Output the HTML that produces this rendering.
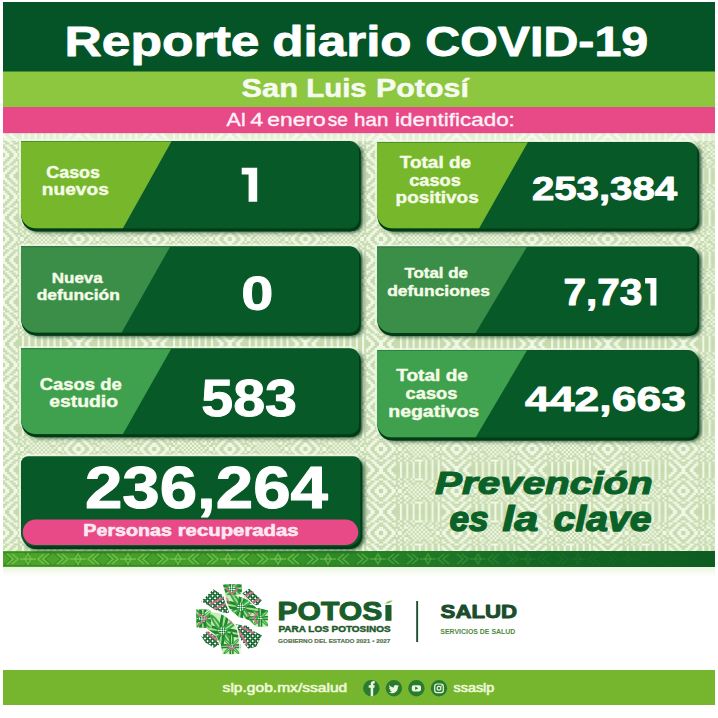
<!DOCTYPE html>
<html><head><meta charset="utf-8"><title>Reporte diario COVID-19</title>
<style>html,body{margin:0;padding:0;background:#fff;width:718px;height:718px;overflow:hidden}svg{display:block}</style>
</head><body>
<svg width="718" height="718" viewBox="0 0 718 718">
<defs>
<filter id="sh" x="-5%" y="-10%" width="110%" height="130%"><feGaussianBlur stdDeviation="1.9"/></filter>
<filter id="sh2" x="-5%" y="-10%" width="110%" height="130%"><feGaussianBlur stdDeviation="0.7"/></filter>
<pattern id="pat" x="3" y="134" width="75.6" height="42.0" patternUnits="userSpaceOnUse"><rect width="75.6" height="42.0" fill="#f0f8e6"/><g fill="#c6daad"><rect x="2.1" y="0.0" width="4.2" height="2.1"/><rect x="10.5" y="0.0" width="8.4" height="2.1"/><rect x="21.0" y="0.0" width="4.2" height="2.1"/><rect x="27.3" y="0.0" width="4.2" height="2.1"/><rect x="33.6" y="0.0" width="4.2" height="2.1"/><rect x="39.9" y="0.0" width="4.2" height="2.1"/><rect x="46.2" y="0.0" width="4.2" height="2.1"/><rect x="52.5" y="0.0" width="4.2" height="2.1"/><rect x="58.8" y="0.0" width="6.3" height="2.1"/><rect x="69.3" y="0.0" width="4.2" height="2.1"/><rect x="4.2" y="2.1" width="4.2" height="2.1"/><rect x="12.6" y="2.1" width="6.3" height="2.1"/><rect x="21.0" y="2.1" width="4.2" height="2.1"/><rect x="27.3" y="2.1" width="4.2" height="2.1"/><rect x="33.6" y="2.1" width="4.2" height="2.1"/><rect x="39.9" y="2.1" width="4.2" height="2.1"/><rect x="46.2" y="2.1" width="4.2" height="2.1"/><rect x="52.5" y="2.1" width="4.2" height="2.1"/><rect x="58.8" y="2.1" width="4.2" height="2.1"/><rect x="67.2" y="2.1" width="4.2" height="2.1"/><rect x="0.0" y="4.2" width="2.1" height="2.1"/><rect x="6.3" y="4.2" width="4.2" height="2.1"/><rect x="14.7" y="4.2" width="4.2" height="2.1"/><rect x="21.0" y="4.2" width="4.2" height="2.1"/><rect x="27.3" y="4.2" width="4.2" height="2.1"/><rect x="33.6" y="4.2" width="4.2" height="2.1"/><rect x="39.9" y="4.2" width="4.2" height="2.1"/><rect x="46.2" y="4.2" width="4.2" height="2.1"/><rect x="52.5" y="4.2" width="4.2" height="2.1"/><rect x="58.8" y="4.2" width="2.1" height="2.1"/><rect x="65.1" y="4.2" width="4.2" height="2.1"/><rect x="73.5" y="4.2" width="2.1" height="2.1"/><rect x="0.0" y="6.3" width="4.2" height="2.1"/><rect x="8.4" y="6.3" width="4.2" height="2.1"/><rect x="14.7" y="6.3" width="4.2" height="2.1"/><rect x="21.0" y="6.3" width="4.2" height="2.1"/><rect x="27.3" y="6.3" width="4.2" height="2.1"/><rect x="33.6" y="6.3" width="4.2" height="2.1"/><rect x="39.9" y="6.3" width="4.2" height="2.1"/><rect x="46.2" y="6.3" width="4.2" height="2.1"/><rect x="52.5" y="6.3" width="4.2" height="2.1"/><rect x="58.8" y="6.3" width="2.1" height="2.1"/><rect x="63.0" y="6.3" width="4.2" height="2.1"/><rect x="71.4" y="6.3" width="4.2" height="2.1"/><rect x="2.1" y="8.4" width="4.2" height="2.1"/><rect x="10.5" y="8.4" width="6.3" height="2.1"/><rect x="18.9" y="8.4" width="4.2" height="2.1"/><rect x="25.2" y="8.4" width="4.2" height="2.1"/><rect x="31.5" y="8.4" width="2.1" height="2.1"/><rect x="42.0" y="8.4" width="2.1" height="2.1"/><rect x="46.2" y="8.4" width="4.2" height="2.1"/><rect x="52.5" y="8.4" width="4.2" height="2.1"/><rect x="58.8" y="8.4" width="6.3" height="2.1"/><rect x="69.3" y="8.4" width="4.2" height="2.1"/><rect x="0.0" y="10.5" width="2.1" height="2.1"/><rect x="6.3" y="10.5" width="4.2" height="2.1"/><rect x="14.7" y="10.5" width="4.2" height="2.1"/><rect x="21.0" y="10.5" width="4.2" height="2.1"/><rect x="27.3" y="10.5" width="4.2" height="2.1"/><rect x="33.6" y="10.5" width="8.4" height="2.1"/><rect x="44.1" y="10.5" width="4.2" height="2.1"/><rect x="50.4" y="10.5" width="4.2" height="2.1"/><rect x="56.7" y="10.5" width="4.2" height="2.1"/><rect x="65.1" y="10.5" width="4.2" height="2.1"/><rect x="73.5" y="10.5" width="2.1" height="2.1"/><rect x="0.0" y="12.6" width="4.2" height="2.1"/><rect x="8.4" y="12.6" width="4.2" height="2.1"/><rect x="14.7" y="12.6" width="2.1" height="2.1"/><rect x="18.9" y="12.6" width="4.2" height="2.1"/><rect x="25.2" y="12.6" width="2.1" height="2.1"/><rect x="29.4" y="12.6" width="6.3" height="2.1"/><rect x="37.8" y="12.6" width="2.1" height="2.1"/><rect x="42.0" y="12.6" width="4.2" height="2.1"/><rect x="48.3" y="12.6" width="2.1" height="2.1"/><rect x="52.5" y="12.6" width="4.2" height="2.1"/><rect x="58.8" y="12.6" width="2.1" height="2.1"/><rect x="63.0" y="12.6" width="4.2" height="2.1"/><rect x="71.4" y="12.6" width="4.2" height="2.1"/><rect x="2.1" y="14.7" width="4.2" height="2.1"/><rect x="10.5" y="14.7" width="8.4" height="2.1"/><rect x="21.0" y="14.7" width="2.1" height="2.1"/><rect x="27.3" y="14.7" width="2.1" height="2.1"/><rect x="31.5" y="14.7" width="2.1" height="2.1"/><rect x="35.7" y="14.7" width="2.1" height="2.1"/><rect x="39.9" y="14.7" width="2.1" height="2.1"/><rect x="44.1" y="14.7" width="4.2" height="2.1"/><rect x="52.5" y="14.7" width="2.1" height="2.1"/><rect x="56.7" y="14.7" width="8.4" height="2.1"/><rect x="69.3" y="14.7" width="4.2" height="2.1"/><rect x="4.2" y="16.8" width="4.2" height="2.1"/><rect x="12.6" y="16.8" width="2.1" height="2.1"/><rect x="16.8" y="16.8" width="4.2" height="2.1"/><rect x="23.1" y="16.8" width="4.2" height="2.1"/><rect x="29.4" y="16.8" width="2.1" height="2.1"/><rect x="33.6" y="16.8" width="2.1" height="2.1"/><rect x="37.8" y="16.8" width="2.1" height="2.1"/><rect x="42.0" y="16.8" width="2.1" height="2.1"/><rect x="46.2" y="16.8" width="6.3" height="2.1"/><rect x="54.6" y="16.8" width="4.2" height="2.1"/><rect x="60.9" y="16.8" width="2.1" height="2.1"/><rect x="67.2" y="16.8" width="4.2" height="2.1"/><rect x="0.0" y="18.9" width="2.1" height="2.1"/><rect x="6.3" y="18.9" width="4.2" height="2.1"/><rect x="14.7" y="18.9" width="2.1" height="2.1"/><rect x="21.0" y="18.9" width="4.2" height="2.1"/><rect x="27.3" y="18.9" width="2.1" height="2.1"/><rect x="31.5" y="18.9" width="2.1" height="2.1"/><rect x="35.7" y="18.9" width="2.1" height="2.1"/><rect x="39.9" y="18.9" width="2.1" height="2.1"/><rect x="44.1" y="18.9" width="2.1" height="2.1"/><rect x="48.3" y="18.9" width="2.1" height="2.1"/><rect x="52.5" y="18.9" width="2.1" height="2.1"/><rect x="58.8" y="18.9" width="2.1" height="2.1"/><rect x="65.1" y="18.9" width="4.2" height="2.1"/><rect x="73.5" y="18.9" width="2.1" height="2.1"/><rect x="0.0" y="21.0" width="2.1" height="2.1"/><rect x="6.3" y="21.0" width="4.2" height="2.1"/><rect x="14.7" y="21.0" width="2.1" height="2.1"/><rect x="21.0" y="21.0" width="2.1" height="2.1"/><rect x="25.2" y="21.0" width="2.1" height="2.1"/><rect x="29.4" y="21.0" width="2.1" height="2.1"/><rect x="33.6" y="21.0" width="2.1" height="2.1"/><rect x="37.8" y="21.0" width="2.1" height="2.1"/><rect x="42.0" y="21.0" width="2.1" height="2.1"/><rect x="46.2" y="21.0" width="2.1" height="2.1"/><rect x="50.4" y="21.0" width="4.2" height="2.1"/><rect x="58.8" y="21.0" width="2.1" height="2.1"/><rect x="65.1" y="21.0" width="4.2" height="2.1"/><rect x="73.5" y="21.0" width="2.1" height="2.1"/><rect x="4.2" y="23.1" width="4.2" height="2.1"/><rect x="12.6" y="23.1" width="2.1" height="2.1"/><rect x="16.8" y="23.1" width="4.2" height="2.1"/><rect x="23.1" y="23.1" width="6.3" height="2.1"/><rect x="31.5" y="23.1" width="2.1" height="2.1"/><rect x="35.7" y="23.1" width="2.1" height="2.1"/><rect x="39.9" y="23.1" width="2.1" height="2.1"/><rect x="44.1" y="23.1" width="2.1" height="2.1"/><rect x="48.3" y="23.1" width="4.2" height="2.1"/><rect x="54.6" y="23.1" width="4.2" height="2.1"/><rect x="60.9" y="23.1" width="2.1" height="2.1"/><rect x="67.2" y="23.1" width="4.2" height="2.1"/><rect x="2.1" y="25.2" width="4.2" height="2.1"/><rect x="10.5" y="25.2" width="8.4" height="2.1"/><rect x="21.0" y="25.2" width="2.1" height="2.1"/><rect x="27.3" y="25.2" width="4.2" height="2.1"/><rect x="33.6" y="25.2" width="2.1" height="2.1"/><rect x="37.8" y="25.2" width="2.1" height="2.1"/><rect x="42.0" y="25.2" width="2.1" height="2.1"/><rect x="46.2" y="25.2" width="2.1" height="2.1"/><rect x="52.5" y="25.2" width="2.1" height="2.1"/><rect x="56.7" y="25.2" width="8.4" height="2.1"/><rect x="69.3" y="25.2" width="4.2" height="2.1"/><rect x="0.0" y="27.3" width="4.2" height="2.1"/><rect x="8.4" y="27.3" width="4.2" height="2.1"/><rect x="14.7" y="27.3" width="2.1" height="2.1"/><rect x="18.9" y="27.3" width="4.2" height="2.1"/><rect x="25.2" y="27.3" width="2.1" height="2.1"/><rect x="29.4" y="27.3" width="4.2" height="2.1"/><rect x="35.7" y="27.3" width="2.1" height="2.1"/><rect x="39.9" y="27.3" width="6.3" height="2.1"/><rect x="48.3" y="27.3" width="2.1" height="2.1"/><rect x="52.5" y="27.3" width="4.2" height="2.1"/><rect x="58.8" y="27.3" width="2.1" height="2.1"/><rect x="63.0" y="27.3" width="4.2" height="2.1"/><rect x="71.4" y="27.3" width="4.2" height="2.1"/><rect x="0.0" y="29.4" width="2.1" height="2.1"/><rect x="6.3" y="29.4" width="4.2" height="2.1"/><rect x="14.7" y="29.4" width="4.2" height="2.1"/><rect x="21.0" y="29.4" width="4.2" height="2.1"/><rect x="27.3" y="29.4" width="4.2" height="2.1"/><rect x="33.6" y="29.4" width="8.4" height="2.1"/><rect x="44.1" y="29.4" width="4.2" height="2.1"/><rect x="50.4" y="29.4" width="4.2" height="2.1"/><rect x="56.7" y="29.4" width="4.2" height="2.1"/><rect x="65.1" y="29.4" width="4.2" height="2.1"/><rect x="73.5" y="29.4" width="2.1" height="2.1"/><rect x="2.1" y="31.5" width="4.2" height="2.1"/><rect x="10.5" y="31.5" width="6.3" height="2.1"/><rect x="18.9" y="31.5" width="4.2" height="2.1"/><rect x="25.2" y="31.5" width="4.2" height="2.1"/><rect x="31.5" y="31.5" width="2.1" height="2.1"/><rect x="42.0" y="31.5" width="2.1" height="2.1"/><rect x="46.2" y="31.5" width="4.2" height="2.1"/><rect x="52.5" y="31.5" width="4.2" height="2.1"/><rect x="58.8" y="31.5" width="6.3" height="2.1"/><rect x="69.3" y="31.5" width="4.2" height="2.1"/><rect x="0.0" y="33.6" width="4.2" height="2.1"/><rect x="8.4" y="33.6" width="4.2" height="2.1"/><rect x="14.7" y="33.6" width="4.2" height="2.1"/><rect x="21.0" y="33.6" width="4.2" height="2.1"/><rect x="27.3" y="33.6" width="4.2" height="2.1"/><rect x="33.6" y="33.6" width="4.2" height="2.1"/><rect x="39.9" y="33.6" width="4.2" height="2.1"/><rect x="46.2" y="33.6" width="4.2" height="2.1"/><rect x="52.5" y="33.6" width="4.2" height="2.1"/><rect x="58.8" y="33.6" width="2.1" height="2.1"/><rect x="63.0" y="33.6" width="4.2" height="2.1"/><rect x="71.4" y="33.6" width="4.2" height="2.1"/><rect x="0.0" y="35.7" width="2.1" height="2.1"/><rect x="6.3" y="35.7" width="4.2" height="2.1"/><rect x="14.7" y="35.7" width="4.2" height="2.1"/><rect x="21.0" y="35.7" width="4.2" height="2.1"/><rect x="27.3" y="35.7" width="4.2" height="2.1"/><rect x="33.6" y="35.7" width="4.2" height="2.1"/><rect x="39.9" y="35.7" width="4.2" height="2.1"/><rect x="46.2" y="35.7" width="4.2" height="2.1"/><rect x="52.5" y="35.7" width="4.2" height="2.1"/><rect x="58.8" y="35.7" width="2.1" height="2.1"/><rect x="65.1" y="35.7" width="4.2" height="2.1"/><rect x="73.5" y="35.7" width="2.1" height="2.1"/><rect x="4.2" y="37.8" width="4.2" height="2.1"/><rect x="12.6" y="37.8" width="6.3" height="2.1"/><rect x="21.0" y="37.8" width="4.2" height="2.1"/><rect x="27.3" y="37.8" width="4.2" height="2.1"/><rect x="33.6" y="37.8" width="4.2" height="2.1"/><rect x="39.9" y="37.8" width="4.2" height="2.1"/><rect x="46.2" y="37.8" width="4.2" height="2.1"/><rect x="52.5" y="37.8" width="4.2" height="2.1"/><rect x="58.8" y="37.8" width="4.2" height="2.1"/><rect x="67.2" y="37.8" width="4.2" height="2.1"/><rect x="2.1" y="39.9" width="4.2" height="2.1"/><rect x="10.5" y="39.9" width="8.4" height="2.1"/><rect x="21.0" y="39.9" width="4.2" height="2.1"/><rect x="27.3" y="39.9" width="4.2" height="2.1"/><rect x="33.6" y="39.9" width="4.2" height="2.1"/><rect x="39.9" y="39.9" width="4.2" height="2.1"/><rect x="46.2" y="39.9" width="4.2" height="2.1"/><rect x="52.5" y="39.9" width="4.2" height="2.1"/><rect x="58.8" y="39.9" width="6.3" height="2.1"/><rect x="69.3" y="39.9" width="4.2" height="2.1"/></g></pattern>
<pattern id="bandp" x="3" y="551" width="50" height="16" patternUnits="userSpaceOnUse">
<g stroke="#2a7a1c" stroke-opacity="0.55" stroke-width="1.2" fill="none">
<path d="M0,1.5H50M0,14.5H50"/>
<path d="M1,2 l7,6 l-7,6 M22,2 l6,6 l-6,6 M28,2 l-6,6 l6,6 M49,2 l-7,6 l7,6"/>
</g>
<g stroke="#93d862" stroke-opacity="0.55" stroke-width="1.5" fill="none">
<path d="M4,3 l6,5 l-6,5 M9,3 l6,5 l-6,5"/>
<path d="M46,3 l-6,5 l6,5 M41,3 l-6,5 l6,5"/>
<path d="M17,8H33"/>
<path d="M25,3 l3,5 l-3,5 l-3,-5z"/>
</g>
</pattern>
<linearGradient id="bandm" x1="0" x2="1" y1="0" y2="0"><stop offset="0" stop-color="#fff"/><stop offset="0.4" stop-color="#fff"/><stop offset="0.75" stop-color="#fff" stop-opacity="0.15"/><stop offset="1" stop-color="#fff" stop-opacity="0"/></linearGradient>
<mask id="bmask" maskUnits="userSpaceOnUse" x="0" y="540" width="718" height="40"><rect x="3" y="551" width="712" height="16" fill="url(#bandm)"/></mask>
<linearGradient id="fade" x1="0" x2="0" y1="0" y2="1"><stop offset="0" stop-color="#eaf6e0"/><stop offset="1" stop-color="#ffffff"/></linearGradient>
<linearGradient id="band" x1="0" x2="1" y1="0" y2="0">
<stop offset="0" stop-color="#4ea52b"/><stop offset="0.35" stop-color="#3e9a2a"/><stop offset="0.55" stop-color="#237f27"/><stop offset="0.75" stop-color="#136624"/><stop offset="1" stop-color="#0d5d22"/>
</linearGradient>
</defs>
<rect x="0" y="0" width="718" height="718" fill="#ffffff"/>
<rect x="3" y="2" width="712" height="70" fill="#045428"/>
<rect x="3" y="71.5" width="712" height="35.5" fill="#8dc63f"/>
<rect x="3" y="107" width="712" height="26.5" fill="#e84a87"/>
<rect x="3" y="133.5" width="712" height="417.5" fill="url(#pat)"/>
<rect x="3" y="133.5" width="712" height="7.5" fill="#f6fbf0" opacity="0.6"/>
<rect x="3" y="551" width="712" height="16" fill="url(#band)"/>
<rect x="3" y="551" width="712" height="16" fill="url(#bandp)" mask="url(#bmask)"/>
<rect x="3" y="567" width="712" height="10" fill="url(#fade)"/>
<rect x="3" y="670" width="712" height="35" fill="#76b52e"/>

<path d="M21,141 H350 A9,9 0 0 1 359,150 V219.5 A9,9 0 0 1 350,228.5 H36 A15,15 0 0 1 21,213.5 V141  Z" fill="none" stroke="#f2fbea" stroke-width="4" opacity="0.75"/>
<path d="M21,141 H350 A9,9 0 0 1 359,150 V219.5 A9,9 0 0 1 350,228.5 H36 A15,15 0 0 1 21,213.5 V141  Z" transform="translate(3.5,3.5)" fill="#04371a" filter="url(#sh)" opacity="0.95"/>
<path d="M21,141 H350 A9,9 0 0 1 359,150 V219.5 A9,9 0 0 1 350,228.5 H36 A15,15 0 0 1 21,213.5 V141  Z" transform="translate(1.8,2.6)" fill="#033b15" filter="url(#sh2)"/>
<path d="M21,141 H350 A9,9 0 0 1 359,150 V219.5 A9,9 0 0 1 350,228.5 H36 A15,15 0 0 1 21,213.5 V141  Z" transform="translate(0.5,3)" fill="#033b15"/>
<clipPath id="cpc1"><path d="M21,141 H350 A9,9 0 0 1 359,150 V219.5 A9,9 0 0 1 350,228.5 H36 A15,15 0 0 1 21,213.5 V141  Z"/></clipPath>
<path d="M21,141 H350 A9,9 0 0 1 359,150 V219.5 A9,9 0 0 1 350,228.5 H36 A15,15 0 0 1 21,213.5 V141  Z" fill="#085928"/>
<polygon points="21,141 171.7,141 122.8,228.5 21,228.5" fill="#77b72b" clip-path="url(#cpc1)"/>
<rect x="21" y="141" width="338" height="1" fill="#0a4a20" opacity="0.35" clip-path="url(#cpc1)"/>
<path d="M21,246.2 H350 A9,9 0 0 1 359,255.2 V323.7 A9,9 0 0 1 350,332.7 H36 A15,15 0 0 1 21,317.7 V246.2  Z" fill="none" stroke="#f2fbea" stroke-width="4" opacity="0.75"/>
<path d="M21,246.2 H350 A9,9 0 0 1 359,255.2 V323.7 A9,9 0 0 1 350,332.7 H36 A15,15 0 0 1 21,317.7 V246.2  Z" transform="translate(3.5,3.5)" fill="#04371a" filter="url(#sh)" opacity="0.95"/>
<path d="M21,246.2 H350 A9,9 0 0 1 359,255.2 V323.7 A9,9 0 0 1 350,332.7 H36 A15,15 0 0 1 21,317.7 V246.2  Z" transform="translate(1.8,2.6)" fill="#033b15" filter="url(#sh2)"/>
<path d="M21,246.2 H350 A9,9 0 0 1 359,255.2 V323.7 A9,9 0 0 1 350,332.7 H36 A15,15 0 0 1 21,317.7 V246.2  Z" transform="translate(0.5,3)" fill="#033b15"/>
<clipPath id="cpc2"><path d="M21,246.2 H350 A9,9 0 0 1 359,255.2 V323.7 A9,9 0 0 1 350,332.7 H36 A15,15 0 0 1 21,317.7 V246.2  Z"/></clipPath>
<path d="M21,246.2 H350 A9,9 0 0 1 359,255.2 V323.7 A9,9 0 0 1 350,332.7 H36 A15,15 0 0 1 21,317.7 V246.2  Z" fill="#085928"/>
<polygon points="21,246.2 170.4,246.2 121.5,332.7 21,332.7" fill="#3a8e48" clip-path="url(#cpc2)"/>
<rect x="21" y="246.2" width="338" height="1" fill="#0a4a20" opacity="0.35" clip-path="url(#cpc2)"/>
<path d="M21,348.2 H350 A9,9 0 0 1 359,357.2 V425.2 A9,9 0 0 1 350,434.2 H36 A15,15 0 0 1 21,419.2 V348.2  Z" fill="none" stroke="#f2fbea" stroke-width="4" opacity="0.75"/>
<path d="M21,348.2 H350 A9,9 0 0 1 359,357.2 V425.2 A9,9 0 0 1 350,434.2 H36 A15,15 0 0 1 21,419.2 V348.2  Z" transform="translate(3.5,3.5)" fill="#04371a" filter="url(#sh)" opacity="0.95"/>
<path d="M21,348.2 H350 A9,9 0 0 1 359,357.2 V425.2 A9,9 0 0 1 350,434.2 H36 A15,15 0 0 1 21,419.2 V348.2  Z" transform="translate(1.8,2.6)" fill="#033b15" filter="url(#sh2)"/>
<path d="M21,348.2 H350 A9,9 0 0 1 359,357.2 V425.2 A9,9 0 0 1 350,434.2 H36 A15,15 0 0 1 21,419.2 V348.2  Z" transform="translate(0.5,3)" fill="#033b15"/>
<clipPath id="cpc3"><path d="M21,348.2 H350 A9,9 0 0 1 359,357.2 V425.2 A9,9 0 0 1 350,434.2 H36 A15,15 0 0 1 21,419.2 V348.2  Z"/></clipPath>
<path d="M21,348.2 H350 A9,9 0 0 1 359,357.2 V425.2 A9,9 0 0 1 350,434.2 H36 A15,15 0 0 1 21,419.2 V348.2  Z" fill="#085928"/>
<polygon points="21,348.2 171.5,348.2 122.8,434.2 21,434.2" fill="#3fa14d" clip-path="url(#cpc3)"/>
<rect x="21" y="348.2" width="338" height="1" fill="#0a4a20" opacity="0.35" clip-path="url(#cpc3)"/>
<path d="M377,142 H688.3 A9,9 0 0 1 697.3,151 V219.4 A9,9 0 0 1 688.3,228.4 H392 A15,15 0 0 1 377,213.4 V142  Z" fill="none" stroke="#f2fbea" stroke-width="4" opacity="0.75"/>
<path d="M377,142 H688.3 A9,9 0 0 1 697.3,151 V219.4 A9,9 0 0 1 688.3,228.4 H392 A15,15 0 0 1 377,213.4 V142  Z" transform="translate(3.5,3.5)" fill="#04371a" filter="url(#sh)" opacity="0.95"/>
<path d="M377,142 H688.3 A9,9 0 0 1 697.3,151 V219.4 A9,9 0 0 1 688.3,228.4 H392 A15,15 0 0 1 377,213.4 V142  Z" transform="translate(1.8,2.6)" fill="#033b15" filter="url(#sh2)"/>
<path d="M377,142 H688.3 A9,9 0 0 1 697.3,151 V219.4 A9,9 0 0 1 688.3,228.4 H392 A15,15 0 0 1 377,213.4 V142  Z" transform="translate(0.5,3)" fill="#033b15"/>
<clipPath id="cpc4"><path d="M377,142 H688.3 A9,9 0 0 1 697.3,151 V219.4 A9,9 0 0 1 688.3,228.4 H392 A15,15 0 0 1 377,213.4 V142  Z"/></clipPath>
<path d="M377,142 H688.3 A9,9 0 0 1 697.3,151 V219.4 A9,9 0 0 1 688.3,228.4 H392 A15,15 0 0 1 377,213.4 V142  Z" fill="#085928"/>
<polygon points="377,142 528,142 479,228.4 377,228.4" fill="#77b72b" clip-path="url(#cpc4)"/>
<rect x="377" y="142" width="320.3" height="1" fill="#0a4a20" opacity="0.35" clip-path="url(#cpc4)"/>
<path d="M377,246.4 H688.3 A9,9 0 0 1 697.3,255.4 V324.0 A9,9 0 0 1 688.3,333.0 H392 A15,15 0 0 1 377,318.0 V246.4  Z" fill="none" stroke="#f2fbea" stroke-width="4" opacity="0.75"/>
<path d="M377,246.4 H688.3 A9,9 0 0 1 697.3,255.4 V324.0 A9,9 0 0 1 688.3,333.0 H392 A15,15 0 0 1 377,318.0 V246.4  Z" transform="translate(3.5,3.5)" fill="#04371a" filter="url(#sh)" opacity="0.95"/>
<path d="M377,246.4 H688.3 A9,9 0 0 1 697.3,255.4 V324.0 A9,9 0 0 1 688.3,333.0 H392 A15,15 0 0 1 377,318.0 V246.4  Z" transform="translate(1.8,2.6)" fill="#033b15" filter="url(#sh2)"/>
<path d="M377,246.4 H688.3 A9,9 0 0 1 697.3,255.4 V324.0 A9,9 0 0 1 688.3,333.0 H392 A15,15 0 0 1 377,318.0 V246.4  Z" transform="translate(0.5,3)" fill="#033b15"/>
<clipPath id="cpc5"><path d="M377,246.4 H688.3 A9,9 0 0 1 697.3,255.4 V324.0 A9,9 0 0 1 688.3,333.0 H392 A15,15 0 0 1 377,318.0 V246.4  Z"/></clipPath>
<path d="M377,246.4 H688.3 A9,9 0 0 1 697.3,255.4 V324.0 A9,9 0 0 1 688.3,333.0 H392 A15,15 0 0 1 377,318.0 V246.4  Z" fill="#085928"/>
<polygon points="377,246.4 527.2,246.4 475.6,333.0 377,333.0" fill="#3a8e48" clip-path="url(#cpc5)"/>
<rect x="377" y="246.4" width="320.3" height="1" fill="#0a4a20" opacity="0.35" clip-path="url(#cpc5)"/>
<path d="M377,350 H688.3 A9,9 0 0 1 697.3,359 V428.6 A9,9 0 0 1 688.3,437.6 H392 A15,15 0 0 1 377,422.6 V350  Z" fill="none" stroke="#f2fbea" stroke-width="4" opacity="0.75"/>
<path d="M377,350 H688.3 A9,9 0 0 1 697.3,359 V428.6 A9,9 0 0 1 688.3,437.6 H392 A15,15 0 0 1 377,422.6 V350  Z" transform="translate(3.5,3.5)" fill="#04371a" filter="url(#sh)" opacity="0.95"/>
<path d="M377,350 H688.3 A9,9 0 0 1 697.3,359 V428.6 A9,9 0 0 1 688.3,437.6 H392 A15,15 0 0 1 377,422.6 V350  Z" transform="translate(1.8,2.6)" fill="#033b15" filter="url(#sh2)"/>
<path d="M377,350 H688.3 A9,9 0 0 1 697.3,359 V428.6 A9,9 0 0 1 688.3,437.6 H392 A15,15 0 0 1 377,422.6 V350  Z" transform="translate(0.5,3)" fill="#033b15"/>
<clipPath id="cpc6"><path d="M377,350 H688.3 A9,9 0 0 1 697.3,359 V428.6 A9,9 0 0 1 688.3,437.6 H392 A15,15 0 0 1 377,422.6 V350  Z"/></clipPath>
<path d="M377,350 H688.3 A9,9 0 0 1 697.3,359 V428.6 A9,9 0 0 1 688.3,437.6 H392 A15,15 0 0 1 377,422.6 V350  Z" fill="#085928"/>
<polygon points="377,350 527.2,350 475.6,437.6 377,437.6" fill="#3fa14d" clip-path="url(#cpc6)"/>
<rect x="377" y="350" width="320.3" height="1" fill="#0a4a20" opacity="0.35" clip-path="url(#cpc6)"/>
<path d="M28,456.3 H353.4 A7,7 0 0 1 360.4,463.3 V533.5999999999999 A12.7,12.7 0 0 1 347.7,546.3 H33.7 A12.7,12.7 0 0 1 21,533.5999999999999 V463.3 A7,7 0 0 1 28,456.3 Z" fill="none" stroke="#f2fbea" stroke-width="4" opacity="0.75"/>
<path d="M28,456.3 H353.4 A7,7 0 0 1 360.4,463.3 V533.5999999999999 A12.7,12.7 0 0 1 347.7,546.3 H33.7 A12.7,12.7 0 0 1 21,533.5999999999999 V463.3 A7,7 0 0 1 28,456.3 Z" transform="translate(3.5,3.5)" fill="#04371a" filter="url(#sh)" opacity="0.95"/>
<path d="M28,456.3 H353.4 A7,7 0 0 1 360.4,463.3 V533.5999999999999 A12.7,12.7 0 0 1 347.7,546.3 H33.7 A12.7,12.7 0 0 1 21,533.5999999999999 V463.3 A7,7 0 0 1 28,456.3 Z" transform="translate(1.8,2.6)" fill="#033b15" filter="url(#sh2)"/>
<path d="M28,456.3 H353.4 A7,7 0 0 1 360.4,463.3 V533.5999999999999 A12.7,12.7 0 0 1 347.7,546.3 H33.7 A12.7,12.7 0 0 1 21,533.5999999999999 V463.3 A7,7 0 0 1 28,456.3 Z" fill="#085928"/>
<rect x="22.8" y="519.6" width="335.4" height="25.4" rx="12.7" fill="#e84a87"/>
<text transform="translate(64.57,55.50) scale(1.2219,1)" fill="#ffffff" stroke="#ffffff" stroke-width="0.82" stroke-linejoin="round" style="font-family:'Liberation Sans',sans-serif;font-size:42.24px;font-weight:bold">Reporte</text>
<text transform="translate(272.30,55.50) scale(1.2119,1)" fill="#ffffff" stroke="#ffffff" stroke-width="0.83" stroke-linejoin="round" style="font-family:'Liberation Sans',sans-serif;font-size:42.24px;font-weight:bold">diario</text>
<text transform="translate(425.29,55.50) scale(1.1442,1)" fill="#ffffff" stroke="#ffffff" stroke-width="0.87" stroke-linejoin="round" style="font-family:'Liberation Sans',sans-serif;font-size:42.24px;font-weight:bold">COVID-19</text>
<text transform="translate(241.52,96.60) scale(1.1640,1)" fill="#f6fbef" stroke="#f6fbef" stroke-width="0.52" stroke-linejoin="round" style="font-family:'Liberation Sans',sans-serif;font-size:26.45px;font-weight:bold">San</text>
<text transform="translate(306.16,96.60) scale(1.1151,1)" fill="#f6fbef" stroke="#f6fbef" stroke-width="0.54" stroke-linejoin="round" style="font-family:'Liberation Sans',sans-serif;font-size:26.45px;font-weight:bold">Luis</text>
<text transform="translate(376.00,96.60) scale(1.1499,1)" fill="#f6fbef" stroke="#f6fbef" stroke-width="0.52" stroke-linejoin="round" style="font-family:'Liberation Sans',sans-serif;font-size:26.45px;font-weight:bold">Potosí</text>
<text transform="translate(226.62,126.48) scale(1.2108,1)" fill="#fdf0f6" stroke="#fdf0f6" stroke-width="0.37" stroke-linejoin="round" style="font-family:'Liberation Sans',sans-serif;font-size:17.71px;font-weight:normal">Al</text>
<text transform="translate(250.16,126.48) scale(1.3198,1)" fill="#fdf0f6" stroke="#fdf0f6" stroke-width="0.34" stroke-linejoin="round" style="font-family:'Liberation Sans',sans-serif;font-size:17.71px;font-weight:normal">4</text>
<text transform="translate(267.31,126.48) scale(1.2893,1)" fill="#fdf0f6" stroke="#fdf0f6" stroke-width="0.35" stroke-linejoin="round" style="font-family:'Liberation Sans',sans-serif;font-size:17.71px;font-weight:normal">enero</text>
<text transform="translate(327.83,126.48) scale(1.0702,1)" fill="#fdf0f6" stroke="#fdf0f6" stroke-width="0.42" stroke-linejoin="round" style="font-family:'Liberation Sans',sans-serif;font-size:17.71px;font-weight:normal">se</text>
<text transform="translate(354.04,126.48) scale(1.1606,1)" fill="#fdf0f6" stroke="#fdf0f6" stroke-width="0.39" stroke-linejoin="round" style="font-family:'Liberation Sans',sans-serif;font-size:17.71px;font-weight:normal">han</text>
<text transform="translate(395.12,126.48) scale(1.2675,1)" fill="#fdf0f6" stroke="#fdf0f6" stroke-width="0.36" stroke-linejoin="round" style="font-family:'Liberation Sans',sans-serif;font-size:17.71px;font-weight:normal">identificado:</text>
<text transform="translate(46.19,177.95) scale(1.1074,1)" fill="#f4fbe6" stroke="#f4fbe6" stroke-width="0.45" stroke-linejoin="round" style="font-family:'Liberation Sans',sans-serif;font-size:16.21px;font-weight:bold">Casos</text>
<text transform="translate(41.85,195.15) scale(1.1798,1)" fill="#f4fbe6" stroke="#f4fbe6" stroke-width="0.42" stroke-linejoin="round" style="font-family:'Liberation Sans',sans-serif;font-size:16.21px;font-weight:bold">nuevos</text>
<text transform="translate(51.79,283.45) scale(1.2306,1)" fill="#f4fbe6" stroke="#f4fbe6" stroke-width="0.41" stroke-linejoin="round" style="font-family:'Liberation Sans',sans-serif;font-size:13.80px;font-weight:bold">Nueva</text>
<text transform="translate(36.71,299.55) scale(1.2606,1)" fill="#f4fbe6" stroke="#f4fbe6" stroke-width="0.40" stroke-linejoin="round" style="font-family:'Liberation Sans',sans-serif;font-size:13.80px;font-weight:bold">defunción</text>
<text transform="translate(39.67,390.05) scale(1.1481,1)" fill="#f4fbe6" stroke="#f4fbe6" stroke-width="0.44" stroke-linejoin="round" style="font-family:'Liberation Sans',sans-serif;font-size:16.07px;font-weight:bold">Casos de</text>
<text transform="translate(49.14,406.85) scale(1.2064,1)" fill="#f4fbe6" stroke="#f4fbe6" stroke-width="0.41" stroke-linejoin="round" style="font-family:'Liberation Sans',sans-serif;font-size:16.07px;font-weight:bold">estudio</text>
<text transform="translate(399.85,168.15) scale(1.1575,1)" fill="#f4fbe6" stroke="#f4fbe6" stroke-width="0.43" stroke-linejoin="round" style="font-family:'Liberation Sans',sans-serif;font-size:16.36px;font-weight:bold">Total de</text>
<text transform="translate(409.18,185.75) scale(1.1150,1)" fill="#f4fbe6" stroke="#f4fbe6" stroke-width="0.45" stroke-linejoin="round" style="font-family:'Liberation Sans',sans-serif;font-size:16.36px;font-weight:bold">casos</text>
<text transform="translate(395.57,203.35) scale(1.1582,1)" fill="#f4fbe6" stroke="#f4fbe6" stroke-width="0.43" stroke-linejoin="round" style="font-family:'Liberation Sans',sans-serif;font-size:16.36px;font-weight:bold">positivos</text>
<text transform="translate(404.45,278.45) scale(1.1629,1)" fill="#f4fbe6" stroke="#f4fbe6" stroke-width="0.43" stroke-linejoin="round" style="font-family:'Liberation Sans',sans-serif;font-size:14.51px;font-weight:bold">Total de</text>
<text transform="translate(387.20,296.35) scale(1.2026,1)" fill="#f4fbe6" stroke="#f4fbe6" stroke-width="0.42" stroke-linejoin="round" style="font-family:'Liberation Sans',sans-serif;font-size:14.51px;font-weight:bold">defunciones</text>
<text transform="translate(396.15,381.45) scale(1.1986,1)" fill="#f4fbe6" stroke="#f4fbe6" stroke-width="0.42" stroke-linejoin="round" style="font-family:'Liberation Sans',sans-serif;font-size:15.93px;font-weight:bold">Total de</text>
<text transform="translate(405.58,399.05) scale(1.1471,1)" fill="#f4fbe6" stroke="#f4fbe6" stroke-width="0.44" stroke-linejoin="round" style="font-family:'Liberation Sans',sans-serif;font-size:15.93px;font-weight:bold">casos</text>
<text transform="translate(388.23,416.75) scale(1.2226,1)" fill="#f4fbe6" stroke="#f4fbe6" stroke-width="0.41" stroke-linejoin="round" style="font-family:'Liberation Sans',sans-serif;font-size:15.93px;font-weight:bold">negativos</text>
<text transform="translate(241.29,310.20) scale(1.1919,1)" fill="#ffffff" stroke="#ffffff" stroke-width="0.84" stroke-linejoin="round" style="font-family:'Liberation Sans',sans-serif;font-size:48.50px;font-weight:bold">0</text>
<text transform="translate(201.30,415.50) scale(1.1022,1)" fill="#ffffff" stroke="#ffffff" stroke-width="0.91" stroke-linejoin="round" style="font-family:'Liberation Sans',sans-serif;font-size:52.05px;font-weight:bold">583</text>
<text transform="translate(531.89,199.85) scale(1.1925,1)" fill="#ffffff" stroke="#ffffff" stroke-width="0.92" stroke-linejoin="round" style="font-family:'Liberation Sans',sans-serif;font-size:33.71px;font-weight:bold">253,384</text>
<text transform="translate(563.39,304.65) scale(1.1160,1)" fill="#ffffff" stroke="#ffffff" stroke-width="0.99" stroke-linejoin="round" style="font-family:'Liberation Sans',sans-serif;font-size:36.27px;font-weight:bold">7,73</text>
<text transform="translate(525.05,410.85) scale(1.2629,1)" fill="#ffffff" stroke="#ffffff" stroke-width="0.87" stroke-linejoin="round" style="font-family:'Liberation Sans',sans-serif;font-size:35.27px;font-weight:bold">442,663</text>
<text transform="translate(84.90,508.30) scale(1.1421,1)" fill="#ffffff" stroke="#ffffff" stroke-width="1.05" stroke-linejoin="round" style="font-family:'Liberation Sans',sans-serif;font-size:58.88px;font-weight:bold">236,264</text>
<text transform="translate(83.32,535.75) scale(1.2597,1)" fill="#fde8f1" stroke="#fde8f1" stroke-width="0.56" stroke-linejoin="round" style="font-family:'Liberation Sans',sans-serif;font-size:15.64px;font-weight:bold">Personas</text>
<text transform="translate(177.68,535.75) scale(1.3014,1)" fill="#fde8f1" stroke="#fde8f1" stroke-width="0.54" stroke-linejoin="round" style="font-family:'Liberation Sans',sans-serif;font-size:15.64px;font-weight:bold">recuperadas</text>
<text transform="translate(435.12,493.55) scale(1.2793,1)" fill="#0b6229" stroke="#0b6229" stroke-width="1.17" stroke-linejoin="round" style="font-family:'Liberation Sans',sans-serif;font-size:31.57px;font-weight:bold;font-style:italic">Prevención</text>
<text transform="translate(502.27,530.55) scale(1.2548,1)" fill="#0b6229" stroke="#0b6229" stroke-width="1.20" stroke-linejoin="round" style="font-family:'Liberation Sans',sans-serif;font-size:34.45px;font-weight:bold;font-style:italic">la</text>
<text transform="translate(449.40,530.55) scale(1.0210,1)" fill="#0b6229" stroke="#0b6229" stroke-width="1.47" stroke-linejoin="round" style="font-family:'Liberation Sans',sans-serif;font-size:34.45px;font-weight:bold;font-style:italic">es</text>
<text transform="translate(553.54,530.55) scale(1.1378,1)" fill="#0b6229" stroke="#0b6229" stroke-width="1.32" stroke-linejoin="round" style="font-family:'Liberation Sans',sans-serif;font-size:34.45px;font-weight:bold;font-style:italic">clave</text>
<text transform="translate(277.52,620.20) scale(1.1302,1)" fill="#1a5d2b" stroke="#1a5d2b" stroke-width="1.06" stroke-linejoin="round" style="font-family:'Liberation Sans',sans-serif;font-size:26.60px;font-weight:bold">POTOS</text>
<text transform="translate(278.43,632.15) scale(1.1122,1)" fill="#1f5a2c" stroke="#1f5a2c" stroke-width="0.45" stroke-linejoin="round" style="font-family:'Liberation Sans',sans-serif;font-size:8.96px;font-weight:bold">PARA LOS POTOSINOS</text>
<text transform="translate(278.10,642.90) scale(1.0889,1)" fill="#55744c" stroke="#55744c" stroke-width="0.18" stroke-linejoin="round" style="font-family:'Liberation Sans',sans-serif;font-size:5.83px;font-weight:bold">GOBIERNO DEL ESTADO 2021 • 2027</text>
<text transform="translate(440.60,618.45) scale(1.1586,1)" fill="#1b4d2c" stroke="#1b4d2c" stroke-width="0.95" stroke-linejoin="round" style="font-family:'Liberation Sans',sans-serif;font-size:19.20px;font-weight:bold">SALUD</text>
<text transform="translate(440.29,633.90) scale(1.0177,1)" fill="#4f8a40" style="font-family:'Liberation Sans',sans-serif;font-size:6.83px;font-weight:bold">SERVICIOS DE SALUD</text>
<text transform="translate(222.61,692.25) scale(1.2174,1)" fill="#eef9da" stroke="#eef9da" stroke-width="0.58" stroke-linejoin="round" style="font-family:'Liberation Sans',sans-serif;font-size:12.80px;font-weight:normal">slp.gob.mx/ssalud</text>
<text transform="translate(453.53,691.65) scale(1.2015,1)" fill="#eef9da" stroke="#eef9da" stroke-width="0.58" stroke-linejoin="round" style="font-family:'Liberation Sans',sans-serif;font-size:11.98px;font-weight:normal">ssaslp</text>
<path d="M241.7,167.8 H257.2 V201.8 H248.6 V174.4 H241.7 Z" fill="#ffffff"/>
<path d="M645.1,278.0 H656.4 V305.6 H650.4 V283.6 H645.1 Z" fill="#ffffff"/>
<rect x="385.4" y="605" width="6.1" height="15.8" fill="#1a5d2b"/>
<path d="M385.2,603.8 C386.5,601.2 389.5,600.2 392.6,600.4 C391.6,602.4 388.8,603.6 385.2,603.8 Z" fill="#8cc152"/>
<rect x="416.2" y="601" width="1.9" height="41" fill="#1d4f2d"/>
<circle cx="371.3" cy="688.3" r="8.2" fill="#2a7b30"/>
<circle cx="393.9" cy="688.3" r="8.2" fill="#2a7b30"/>
<circle cx="416.4" cy="688.3" r="8.2" fill="#2a7b30"/>
<circle cx="439.0" cy="688.3" r="8.2" fill="#2a7b30"/>
<path d="M370.7,696.3 V687.8 H368.7 V685.3 H370.7 V684.0999999999999 C370.7,681.9 371.90000000000003,681.0999999999999 373.90000000000003,681.0999999999999 H374.7 V683.5 H373.90000000000003 C373.3,683.5 373.2,683.8 373.2,684.4 V685.3 H374.7 L374.40000000000003,687.8 H373.2 V696.3 Z" fill="#eaf8dc"/>
<path transform="translate(388.7,683.9) scale(0.43)" d="M24,4.6c-0.9,0.4-1.8,0.6-2.8,0.8c1-0.6,1.8-1.6,2.2-2.7c-1,0.6-2,1-3.1,1.2C19.4,2.9,18.1,2.3,16.7,2.3c-2.7,0-4.9,2.2-4.9,4.9c0,0.4,0,0.8,0.1,1.1C7.7,8.1,4.1,6.1,1.7,3.1C1.2,3.9,1,4.7,1,5.6c0,1.7,0.9,3.2,2.2,4.1C2.4,9.7,1.6,9.5,1,9.1v0.1c0,2.4,1.7,4.4,3.9,4.8c-0.4,0.1-0.8,0.2-1.3,0.2c-0.3,0-0.6,0-0.9-0.1c0.6,2,2.4,3.4,4.6,3.4c-1.7,1.3-3.8,2.1-6.1,2.1c-0.4,0-0.8,0-1.2-0.1c2.2,1.4,4.8,2.2,7.5,2.2c9.1,0,14-7.5,14-14c0-0.2,0-0.4,0-0.6C22.5,6.4,23.3,5.5,24,4.6z" fill="#eaf8dc"/>
<rect x="411.79999999999995" y="685.1999999999999" width="9.2" height="6.2" rx="1.8" fill="#eaf8dc"/>
<path d="M415.2,686.5999999999999 L418.29999999999995,688.3 L415.2,690.0 Z" fill="#2a7b30"/>
<rect x="434.7" y="684.0" width="8.6" height="8.6" rx="2.4" fill="none" stroke="#eaf8dc" stroke-width="1.2"/>
<circle cx="439.0" cy="688.3" r="1.9" fill="none" stroke="#eaf8dc" stroke-width="1.2"/>
<circle cx="441.4" cy="685.9" r="0.6" fill="#eaf8dc"/>
<defs>
<pattern id="lchk" width="34" height="34" patternUnits="userSpaceOnUse" patternTransform="rotate(45)">
<rect width="34" height="34" fill="#145a2c"/>
<rect width="17" height="17" fill="#ffffff"/>
<rect x="17" y="17" width="17" height="17" fill="#2f8a45"/>
</pattern>
<pattern id="lchk2" width="32" height="32" patternUnits="userSpaceOnUse">
<rect width="32" height="32" fill="#1f7a38"/>
<rect width="16" height="16" fill="#e9fbe0"/>
<rect x="16" y="16" width="16" height="16" fill="#e9fbe0"/>
</pattern>
<clipPath id="lcA"><polygon points="280,120 400,130 500,170 590,250 700,270 700,430 580,425 520,365 420,335 360,285 305,230 285,170"/></clipPath>
<clipPath id="lcB"><polygon points="100,280 250,300 330,350 400,420 425,500 445,690 265,695 250,600 195,505 115,445"/></clipPath>
<clipPath id="lcT"><polygon points="265,25 445,20 450,115 300,130"/></clipPath>
<clipPath id="lcL"><polygon points="10,260 145,262 160,440 15,435"/></clipPath>
</defs>
<g transform="translate(195,582) scale(0.10446)">
<polygon points="60,185 175,70 270,130 330,290 300,300 200,270 120,220" fill="url(#lchk)"/>
<path d="M140,215 L270,150 M180,262 L300,205" stroke="#d96b93" stroke-width="20" fill="none" opacity="0.9"/>
<polygon points="450,110 520,65 640,175 600,225 540,210 480,150" fill="url(#lchk)"/>
<path d="M470,140 L560,95 M540,200 L620,160" stroke="#d96b93" stroke-width="20" fill="none" opacity="0.9"/>
<polygon points="380,405 500,420 560,470 640,510 585,620 510,640 445,560 405,470" fill="url(#lchk)"/>
<path d="M440,430 L560,490 M420,470 L500,600" stroke="#d96b93" stroke-width="20" fill="none" opacity="0.9"/>
<polygon points="60,520 120,470 200,520 230,600 180,630 100,580" fill="url(#lchk)"/>
<path d="M110,480 L215,560" stroke="#d96b93" stroke-width="20" fill="none" opacity="0.9"/>
<g clip-path="url(#lcA)"><rect x="0" y="0" width="718" height="718" fill="#c9f0b4"/><ellipse cx="440" cy="240" rx="150.0" ry="37.0" transform="rotate(10 440 240) translate(105.0,0)" fill="#1f8538"/><ellipse cx="440" cy="240" rx="82.5" ry="10.571428571428571" transform="rotate(10 440 240) translate(120.0,0)" fill="#a8e37e"/><ellipse cx="440" cy="240" rx="115.0" ry="27.0" transform="rotate(55 440 240) translate(80.5,0)" fill="#3aa54e"/><ellipse cx="440" cy="240" rx="63.25000000000001" ry="7.714285714285714" transform="rotate(55 440 240) translate(92.0,0)" fill="#a8e37e"/><ellipse cx="440" cy="240" rx="150.0" ry="37.0" transform="rotate(100 440 240) translate(105.0,0)" fill="#1f8538"/><ellipse cx="440" cy="240" rx="82.5" ry="10.571428571428571" transform="rotate(100 440 240) translate(120.0,0)" fill="#a8e37e"/><ellipse cx="440" cy="240" rx="115.0" ry="27.0" transform="rotate(145 440 240) translate(80.5,0)" fill="#3aa54e"/><ellipse cx="440" cy="240" rx="63.25000000000001" ry="7.714285714285714" transform="rotate(145 440 240) translate(92.0,0)" fill="#a8e37e"/><ellipse cx="440" cy="240" rx="150.0" ry="37.0" transform="rotate(190 440 240) translate(105.0,0)" fill="#1f8538"/><ellipse cx="440" cy="240" rx="82.5" ry="10.571428571428571" transform="rotate(190 440 240) translate(120.0,0)" fill="#a8e37e"/><ellipse cx="440" cy="240" rx="115.0" ry="27.0" transform="rotate(235 440 240) translate(80.5,0)" fill="#3aa54e"/><ellipse cx="440" cy="240" rx="63.25000000000001" ry="7.714285714285714" transform="rotate(235 440 240) translate(92.0,0)" fill="#a8e37e"/><ellipse cx="440" cy="240" rx="150.0" ry="37.0" transform="rotate(280 440 240) translate(105.0,0)" fill="#1f8538"/><ellipse cx="440" cy="240" rx="82.5" ry="10.571428571428571" transform="rotate(280 440 240) translate(120.0,0)" fill="#a8e37e"/><ellipse cx="440" cy="240" rx="115.0" ry="27.0" transform="rotate(325 440 240) translate(80.5,0)" fill="#3aa54e"/><ellipse cx="440" cy="240" rx="63.25000000000001" ry="7.714285714285714" transform="rotate(325 440 240) translate(92.0,0)" fill="#a8e37e"/><rect x="408.0" y="208.0" width="64.0" height="64.0" fill="url(#lchk2)" transform="rotate(45 440 240)"/></g>
<g clip-path="url(#lcA)"><ellipse cx="625" cy="345" rx="82.5" ry="20.35" transform="rotate(0 625 345) translate(57.74999999999999,0)" fill="#1f8538"/><ellipse cx="625" cy="345" rx="45.37500000000001" ry="5.814285714285715" transform="rotate(0 625 345) translate(66.0,0)" fill="#a8e37e"/><ellipse cx="625" cy="345" rx="63.25000000000001" ry="14.850000000000001" transform="rotate(45 625 345) translate(44.275000000000006,0)" fill="#3aa54e"/><ellipse cx="625" cy="345" rx="34.78750000000001" ry="4.242857142857143" transform="rotate(45 625 345) translate(50.60000000000001,0)" fill="#a8e37e"/><ellipse cx="625" cy="345" rx="82.5" ry="20.35" transform="rotate(90 625 345) translate(57.74999999999999,0)" fill="#1f8538"/><ellipse cx="625" cy="345" rx="45.37500000000001" ry="5.814285714285715" transform="rotate(90 625 345) translate(66.0,0)" fill="#a8e37e"/><ellipse cx="625" cy="345" rx="63.25000000000001" ry="14.850000000000001" transform="rotate(135 625 345) translate(44.275000000000006,0)" fill="#3aa54e"/><ellipse cx="625" cy="345" rx="34.78750000000001" ry="4.242857142857143" transform="rotate(135 625 345) translate(50.60000000000001,0)" fill="#a8e37e"/><ellipse cx="625" cy="345" rx="82.5" ry="20.35" transform="rotate(180 625 345) translate(57.74999999999999,0)" fill="#1f8538"/><ellipse cx="625" cy="345" rx="45.37500000000001" ry="5.814285714285715" transform="rotate(180 625 345) translate(66.0,0)" fill="#a8e37e"/><ellipse cx="625" cy="345" rx="63.25000000000001" ry="14.850000000000001" transform="rotate(225 625 345) translate(44.275000000000006,0)" fill="#3aa54e"/><ellipse cx="625" cy="345" rx="34.78750000000001" ry="4.242857142857143" transform="rotate(225 625 345) translate(50.60000000000001,0)" fill="#a8e37e"/><ellipse cx="625" cy="345" rx="82.5" ry="20.35" transform="rotate(270 625 345) translate(57.74999999999999,0)" fill="#1f8538"/><ellipse cx="625" cy="345" rx="45.37500000000001" ry="5.814285714285715" transform="rotate(270 625 345) translate(66.0,0)" fill="#a8e37e"/><ellipse cx="625" cy="345" rx="63.25000000000001" ry="14.850000000000001" transform="rotate(315 625 345) translate(44.275000000000006,0)" fill="#3aa54e"/><ellipse cx="625" cy="345" rx="34.78750000000001" ry="4.242857142857143" transform="rotate(315 625 345) translate(50.60000000000001,0)" fill="#a8e37e"/><rect x="607.4" y="327.4" width="35.2" height="35.2" fill="url(#lchk2)" transform="rotate(45 625 345)"/></g>
<g clip-path="url(#lcB)"><rect x="0" y="0" width="718" height="718" fill="#c9f0b4"/><ellipse cx="260" cy="470" rx="150.0" ry="37.0" transform="rotate(10 260 470) translate(105.0,0)" fill="#1f8538"/><ellipse cx="260" cy="470" rx="82.5" ry="10.571428571428571" transform="rotate(10 260 470) translate(120.0,0)" fill="#a8e37e"/><ellipse cx="260" cy="470" rx="115.0" ry="27.0" transform="rotate(55 260 470) translate(80.5,0)" fill="#3aa54e"/><ellipse cx="260" cy="470" rx="63.25000000000001" ry="7.714285714285714" transform="rotate(55 260 470) translate(92.0,0)" fill="#a8e37e"/><ellipse cx="260" cy="470" rx="150.0" ry="37.0" transform="rotate(100 260 470) translate(105.0,0)" fill="#1f8538"/><ellipse cx="260" cy="470" rx="82.5" ry="10.571428571428571" transform="rotate(100 260 470) translate(120.0,0)" fill="#a8e37e"/><ellipse cx="260" cy="470" rx="115.0" ry="27.0" transform="rotate(145 260 470) translate(80.5,0)" fill="#3aa54e"/><ellipse cx="260" cy="470" rx="63.25000000000001" ry="7.714285714285714" transform="rotate(145 260 470) translate(92.0,0)" fill="#a8e37e"/><ellipse cx="260" cy="470" rx="150.0" ry="37.0" transform="rotate(190 260 470) translate(105.0,0)" fill="#1f8538"/><ellipse cx="260" cy="470" rx="82.5" ry="10.571428571428571" transform="rotate(190 260 470) translate(120.0,0)" fill="#a8e37e"/><ellipse cx="260" cy="470" rx="115.0" ry="27.0" transform="rotate(235 260 470) translate(80.5,0)" fill="#3aa54e"/><ellipse cx="260" cy="470" rx="63.25000000000001" ry="7.714285714285714" transform="rotate(235 260 470) translate(92.0,0)" fill="#a8e37e"/><ellipse cx="260" cy="470" rx="150.0" ry="37.0" transform="rotate(280 260 470) translate(105.0,0)" fill="#1f8538"/><ellipse cx="260" cy="470" rx="82.5" ry="10.571428571428571" transform="rotate(280 260 470) translate(120.0,0)" fill="#a8e37e"/><ellipse cx="260" cy="470" rx="115.0" ry="27.0" transform="rotate(325 260 470) translate(80.5,0)" fill="#3aa54e"/><ellipse cx="260" cy="470" rx="63.25000000000001" ry="7.714285714285714" transform="rotate(325 260 470) translate(92.0,0)" fill="#a8e37e"/><rect x="228.0" y="438.0" width="64.0" height="64.0" fill="url(#lchk2)" transform="rotate(45 260 470)"/></g>
<g clip-path="url(#lcB)"><ellipse cx="350" cy="615" rx="82.5" ry="20.35" transform="rotate(0 350 615) translate(57.74999999999999,0)" fill="#1f8538"/><ellipse cx="350" cy="615" rx="45.37500000000001" ry="5.814285714285715" transform="rotate(0 350 615) translate(66.0,0)" fill="#a8e37e"/><ellipse cx="350" cy="615" rx="63.25000000000001" ry="14.850000000000001" transform="rotate(45 350 615) translate(44.275000000000006,0)" fill="#3aa54e"/><ellipse cx="350" cy="615" rx="34.78750000000001" ry="4.242857142857143" transform="rotate(45 350 615) translate(50.60000000000001,0)" fill="#a8e37e"/><ellipse cx="350" cy="615" rx="82.5" ry="20.35" transform="rotate(90 350 615) translate(57.74999999999999,0)" fill="#1f8538"/><ellipse cx="350" cy="615" rx="45.37500000000001" ry="5.814285714285715" transform="rotate(90 350 615) translate(66.0,0)" fill="#a8e37e"/><ellipse cx="350" cy="615" rx="63.25000000000001" ry="14.850000000000001" transform="rotate(135 350 615) translate(44.275000000000006,0)" fill="#3aa54e"/><ellipse cx="350" cy="615" rx="34.78750000000001" ry="4.242857142857143" transform="rotate(135 350 615) translate(50.60000000000001,0)" fill="#a8e37e"/><ellipse cx="350" cy="615" rx="82.5" ry="20.35" transform="rotate(180 350 615) translate(57.74999999999999,0)" fill="#1f8538"/><ellipse cx="350" cy="615" rx="45.37500000000001" ry="5.814285714285715" transform="rotate(180 350 615) translate(66.0,0)" fill="#a8e37e"/><ellipse cx="350" cy="615" rx="63.25000000000001" ry="14.850000000000001" transform="rotate(225 350 615) translate(44.275000000000006,0)" fill="#3aa54e"/><ellipse cx="350" cy="615" rx="34.78750000000001" ry="4.242857142857143" transform="rotate(225 350 615) translate(50.60000000000001,0)" fill="#a8e37e"/><ellipse cx="350" cy="615" rx="82.5" ry="20.35" transform="rotate(270 350 615) translate(57.74999999999999,0)" fill="#1f8538"/><ellipse cx="350" cy="615" rx="45.37500000000001" ry="5.814285714285715" transform="rotate(270 350 615) translate(66.0,0)" fill="#a8e37e"/><ellipse cx="350" cy="615" rx="63.25000000000001" ry="14.850000000000001" transform="rotate(315 350 615) translate(44.275000000000006,0)" fill="#3aa54e"/><ellipse cx="350" cy="615" rx="34.78750000000001" ry="4.242857142857143" transform="rotate(315 350 615) translate(50.60000000000001,0)" fill="#a8e37e"/><rect x="332.4" y="597.4" width="35.2" height="35.2" fill="url(#lchk2)" transform="rotate(45 350 615)"/></g>
<g clip-path="url(#lcT)"><rect x="0" y="0" width="718" height="718" fill="#c9f0b4"/><ellipse cx="355" cy="60" rx="150.0" ry="37.0" transform="rotate(0 355 60) translate(105.0,0)" fill="#1f8538"/><ellipse cx="355" cy="60" rx="82.5" ry="10.571428571428571" transform="rotate(0 355 60) translate(120.0,0)" fill="#a8e37e"/><ellipse cx="355" cy="60" rx="115.0" ry="27.0" transform="rotate(45 355 60) translate(80.5,0)" fill="#3aa54e"/><ellipse cx="355" cy="60" rx="63.25000000000001" ry="7.714285714285714" transform="rotate(45 355 60) translate(92.0,0)" fill="#a8e37e"/><ellipse cx="355" cy="60" rx="150.0" ry="37.0" transform="rotate(90 355 60) translate(105.0,0)" fill="#1f8538"/><ellipse cx="355" cy="60" rx="82.5" ry="10.571428571428571" transform="rotate(90 355 60) translate(120.0,0)" fill="#a8e37e"/><ellipse cx="355" cy="60" rx="115.0" ry="27.0" transform="rotate(135 355 60) translate(80.5,0)" fill="#3aa54e"/><ellipse cx="355" cy="60" rx="63.25000000000001" ry="7.714285714285714" transform="rotate(135 355 60) translate(92.0,0)" fill="#a8e37e"/><ellipse cx="355" cy="60" rx="150.0" ry="37.0" transform="rotate(180 355 60) translate(105.0,0)" fill="#1f8538"/><ellipse cx="355" cy="60" rx="82.5" ry="10.571428571428571" transform="rotate(180 355 60) translate(120.0,0)" fill="#a8e37e"/><ellipse cx="355" cy="60" rx="115.0" ry="27.0" transform="rotate(225 355 60) translate(80.5,0)" fill="#3aa54e"/><ellipse cx="355" cy="60" rx="63.25000000000001" ry="7.714285714285714" transform="rotate(225 355 60) translate(92.0,0)" fill="#a8e37e"/><ellipse cx="355" cy="60" rx="150.0" ry="37.0" transform="rotate(270 355 60) translate(105.0,0)" fill="#1f8538"/><ellipse cx="355" cy="60" rx="82.5" ry="10.571428571428571" transform="rotate(270 355 60) translate(120.0,0)" fill="#a8e37e"/><ellipse cx="355" cy="60" rx="115.0" ry="27.0" transform="rotate(315 355 60) translate(80.5,0)" fill="#3aa54e"/><ellipse cx="355" cy="60" rx="63.25000000000001" ry="7.714285714285714" transform="rotate(315 355 60) translate(92.0,0)" fill="#a8e37e"/><rect x="323.0" y="28.0" width="64.0" height="64.0" fill="url(#lchk2)" transform="rotate(45 355 60)"/></g>
<g clip-path="url(#lcL)"><rect x="0" y="0" width="718" height="718" fill="#c9f0b4"/><ellipse cx="75" cy="350" rx="150.0" ry="37.0" transform="rotate(0 75 350) translate(105.0,0)" fill="#1f8538"/><ellipse cx="75" cy="350" rx="82.5" ry="10.571428571428571" transform="rotate(0 75 350) translate(120.0,0)" fill="#a8e37e"/><ellipse cx="75" cy="350" rx="115.0" ry="27.0" transform="rotate(45 75 350) translate(80.5,0)" fill="#3aa54e"/><ellipse cx="75" cy="350" rx="63.25000000000001" ry="7.714285714285714" transform="rotate(45 75 350) translate(92.0,0)" fill="#a8e37e"/><ellipse cx="75" cy="350" rx="150.0" ry="37.0" transform="rotate(90 75 350) translate(105.0,0)" fill="#1f8538"/><ellipse cx="75" cy="350" rx="82.5" ry="10.571428571428571" transform="rotate(90 75 350) translate(120.0,0)" fill="#a8e37e"/><ellipse cx="75" cy="350" rx="115.0" ry="27.0" transform="rotate(135 75 350) translate(80.5,0)" fill="#3aa54e"/><ellipse cx="75" cy="350" rx="63.25000000000001" ry="7.714285714285714" transform="rotate(135 75 350) translate(92.0,0)" fill="#a8e37e"/><ellipse cx="75" cy="350" rx="150.0" ry="37.0" transform="rotate(180 75 350) translate(105.0,0)" fill="#1f8538"/><ellipse cx="75" cy="350" rx="82.5" ry="10.571428571428571" transform="rotate(180 75 350) translate(120.0,0)" fill="#a8e37e"/><ellipse cx="75" cy="350" rx="115.0" ry="27.0" transform="rotate(225 75 350) translate(80.5,0)" fill="#3aa54e"/><ellipse cx="75" cy="350" rx="63.25000000000001" ry="7.714285714285714" transform="rotate(225 75 350) translate(92.0,0)" fill="#a8e37e"/><ellipse cx="75" cy="350" rx="150.0" ry="37.0" transform="rotate(270 75 350) translate(105.0,0)" fill="#1f8538"/><ellipse cx="75" cy="350" rx="82.5" ry="10.571428571428571" transform="rotate(270 75 350) translate(120.0,0)" fill="#a8e37e"/><ellipse cx="75" cy="350" rx="115.0" ry="27.0" transform="rotate(315 75 350) translate(80.5,0)" fill="#3aa54e"/><ellipse cx="75" cy="350" rx="63.25000000000001" ry="7.714285714285714" transform="rotate(315 75 350) translate(92.0,0)" fill="#a8e37e"/><rect x="43.0" y="318.0" width="64.0" height="64.0" fill="url(#lchk2)" transform="rotate(45 75 350)"/></g>
<path d="M290,55 L355,115 L420,50 M30,300 L110,350 L30,410 M600,290 L560,340 L600,400 M300,600 L350,650 L400,600" stroke="#d96b93" stroke-width="16" fill="none" opacity="0.9"/>
<path d="M300,150 L330,200 M320,360 L370,400 M540,300 L500,330" stroke="#d96b93" stroke-width="14" fill="none" opacity="0.85"/>
<path d="M262,30 C268,120 300,220 345,300 C385,370 430,400 470,420" stroke="#ffffff" stroke-width="14" fill="none"/>
<path d="M140,262 C250,290 340,335 392,420 C422,480 432,560 432,690" stroke="#ffffff" stroke-width="12" fill="none"/>
<path d="M440,105 C490,150 545,200 600,250" stroke="#ffffff" stroke-width="10" fill="none"/>
<path d="M150,255 L95,300" stroke="#ffffff" stroke-width="10" fill="none"/>
</g>
</svg>
</body></html>
